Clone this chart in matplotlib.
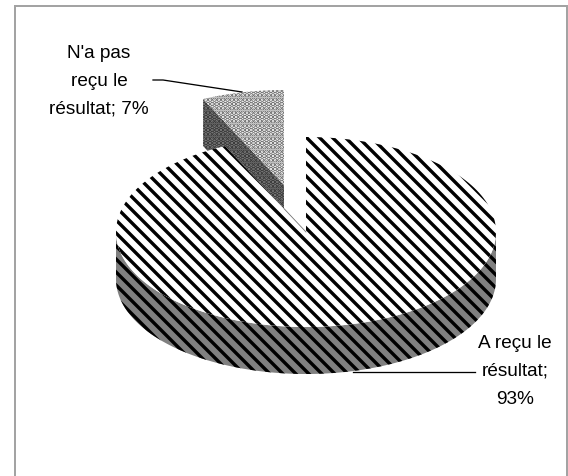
import numpy as np
import matplotlib
matplotlib.use("Agg")
import matplotlib.pyplot as plt

shares = [93, 7]
labels = ["A reçu le\nrésultat;\n93%", "N'a pas\nreçu le\nrésultat; 7%"]

# dpi picked so the hatch tile gives 13 px stripes and 4.3 px dots like the original
W, H, DPI = 568, 476, 78
PX = 72 / DPI
cx, cy, rx, ry = 306, 232, 190, 95
depth = 47
off_x, off_y = -22, -47

plt.rcParams['font.family'] = ['Liberation Sans', 'DejaVu Sans']
plt.rcParams['hatch.linewidth'] = 3.4 * PX

fig = plt.figure(figsize=(W / DPI, H / DPI), dpi=DPI)
ax = fig.add_axes([0, 0, 1, 1])
ax.set_xlim(0, W)
ax.set_ylim(H, 0)
ax.axis("off")


def thin_hatch(patch, lw):
    # hatch width is global in rcParams, the dots need a thinner one
    orig = patch.draw
    def draw(renderer):
        with plt.rc_context({'hatch.linewidth': lw}):
            orig(renderer)
    patch.draw = draw


def rim(t0, t1, x0=cx, y0=cy):
    t = np.radians(np.linspace(t0, t1, 200))
    return x0 + rx * np.sin(t), y0 - ry * np.cos(t)


# angles clockwise from the top, main slice first
split = 360 * shares[0] / sum(shares)

# chart frame, it runs off the bottom of the image
ax.plot([15, 15, 567, 567], [H + 5, 5.5, 5.5, H + 5], color="#a3a3a3", lw=2 * PX,
        solid_joinstyle="miter", zorder=1)

# pulled out slice: cut face then top
ex, ey = cx + off_x, cy + off_y
xe, ye = rx * np.sin(np.radians(split)) + ex, -ry * np.cos(np.radians(split)) + ey
side = ax.fill([xe, ex, ex, xe], [ye, ey, ey + depth, ye + depth],
               facecolor="#808080", edgecolor="#333333", linewidth=0,
               hatch="...", zorder=2)[0]
thin_hatch(side, 0.8 * PX)

xs, ys = rim(split, 360, ex, ey)
top = ax.fill(np.r_[ex, xs], np.r_[ey, ys], facecolor="white", edgecolor="#666666",
              linewidth=0, hatch="...", zorder=3)[0]
thin_hatch(top, 0.7 * PX)

# main slice: front wall then top
xf, yf = rim(90, 270)
ax.fill(np.r_[xf, xf[::-1]], np.r_[yf, yf[::-1] + depth], facecolor="#808080",
        edgecolor="black", linewidth=0, hatch="\\\\", zorder=4)
xm, ym = rim(0, split)
ax.fill(np.r_[cx, xm], np.r_[cy, ym], facecolor="white", edgecolor="black",
        linewidth=0, hatch="\\\\", zorder=5)
# only the part of the cut edge next to the gap shows a line
ax.plot([cx, cx + 0.27 * (xm[-1] - cx)], [cy, cy + 0.27 * (ym[-1] - cy)],
        color="#707070", lw=0.8 * PX, zorder=6)

# leader lines
ax.plot([153, 163, 242], [80, 80, 92], color="black", lw=1.3 * PX, zorder=7)
ax.plot([353, 475], [371.5, 371.5], color="black", lw=1.3 * PX, zorder=7)

ax.text(515, 371.5, labels[0], ha="center", va="center", fontsize=19 * PX,
        linespacing=1.84, color="black")
ax.text(99, 81, labels[1], ha="center", va="center", fontsize=19 * PX,
        linespacing=1.84, color="black")

fig.savefig("out.png", dpi=DPI)
